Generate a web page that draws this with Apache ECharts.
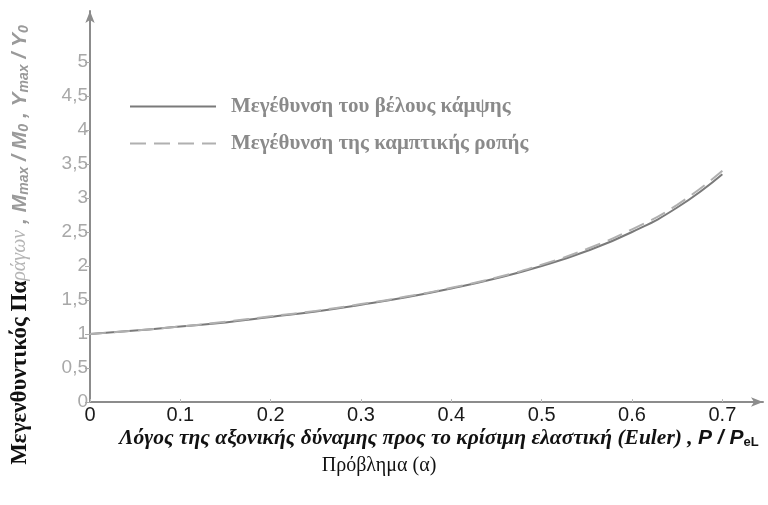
<!DOCTYPE html>
<html>
<head>
<meta charset="utf-8">
<script src="https://cdn.jsdelivr.net/npm/echarts@6/dist/echarts.min.js"></script>
<style>html,body{margin:0;padding:0;background:#fff;}#c{width:768px;height:505px;}</style>
</head>
<body>
<div id="c"></div>
<script>
// Load ratio P/PeL
const alpha = [0, 0.05, 0.1, 0.15, 0.2, 0.25, 0.3, 0.35, 0.4, 0.45, 0.5, 0.55, 0.6, 0.65, 0.7];
// Deflection amplification Ymax/Y0 (solid)
const deflection = [1.0, 1.05, 1.11, 1.17, 1.25, 1.33, 1.43, 1.54, 1.67, 1.82, 2.0, 2.22, 2.5, 2.86, 3.35];
// Moment amplification Mmax/M0 (dashed)
const moment = [1.0, 1.05, 1.11, 1.18, 1.26, 1.34, 1.44, 1.55, 1.68, 1.83, 2.02, 2.25, 2.54, 2.9, 3.4];
const xTicks = [0, 0.1, 0.2, 0.3, 0.4, 0.5, 0.6, 0.7];
const yTicks = [0, 0.5, 1, 1.5, 2, 2.5, 3, 3.5, 4, 4.5, 5];
const seriesNames = ['Μεγέθυνση του βέλους κάμψης', 'Μεγέθυνση της καμπτικής ροπής'];

const chart = echarts.init(document.getElementById('c'));
const serif = '"Liberation Serif", "DejaVu Serif", serif';
const sans = '"Liberation Sans", Arial, sans-serif';

chart.setOption({
  animation: false,
  backgroundColor: '#fff',
  grid: { left: 90, right: 5, top: 11, bottom: 103, containLabel: false },
  legend: {
    orient: 'vertical',
    left: 124,
    top: 91,
    itemWidth: 86,
    itemHeight: 14,
    itemGap: 16,
    itemStyle: { opacity: 0 },
    textStyle: { fontFamily: serif, fontWeight: 'bold', fontSize: 21, color: '#8a8a8a', padding: [0, 0, 0, 10] },
    data: seriesNames
  },
  xAxis: {
    type: 'value', min: 0, max: 0.745,
    axisLine: { lineStyle: { color: '#8c8c8c', width: 2 }, symbol: ['none', 'arrow'], symbolSize: [7, 12] },
    axisTick: { show: true, inside: true, length: 3, customValues: xTicks, lineStyle: { color: '#bbb' } },
    axisLabel: { customValues: xTicks, color: '#1a1a1a', fontFamily: sans, fontSize: 20, margin: 3,
      formatter: v => String(+v.toFixed(1)) },
    splitLine: { show: false }
  },
  yAxis: {
    type: 'value', min: 0, max: 5.75,
    axisLine: { lineStyle: { color: '#8c8c8c', width: 2 }, symbol: ['none', 'arrow'], symbolSize: [7, 12] },
    axisTick: { show: true, length: 5, customValues: yTicks, lineStyle: { color: '#aaa' } },
    axisLabel: { customValues: yTicks, color: '#a8a8a8', fontFamily: sans, fontSize: 19, margin: 2,
      formatter: v => String(+v.toFixed(1)).replace('.', ',') },
    splitLine: { show: false }
  },
  series: [
    { name: seriesNames[0], type: 'line', symbol: 'none', smooth: true,
      lineStyle: { color: '#7a7a7a', width: 2, type: 'solid' }, itemStyle: { color: '#7a7a7a' },
      data: alpha.map((a, i) => [a, deflection[i]]) },
    { name: seriesNames[1], type: 'line', symbol: 'none', smooth: true,
      lineStyle: { color: '#b0b0b0', width: 2, type: [16, 8] }, itemStyle: { color: '#b0b0b0' },
      data: alpha.map((a, i) => [a, moment[i]]) }
  ],
  graphic: [
    { type: 'text', rotation: Math.PI / 2, x: 20, y: 245,
      style: {
        x: 0, y: 0, align: 'center', verticalAlign: 'middle',
        text: '{a|Μεγενθυντικός Πα}{b|ράγων}{c| , M}{s|max}{c| / M}{s|0}{c| , Y}{s|max}{c| / Y}{s|0}',
        rich: {
          a: { fontFamily: serif, fontWeight: 'bold', fontSize: 23, fill: '#111' },
          b: { fontFamily: serif, fontStyle: 'italic', fontSize: 20, fill: '#b5b5b5' },
          c: { fontFamily: sans, fontWeight: 'bold', fontStyle: 'italic', fontSize: 21, fill: '#9a9a9a' },
          s: { fontFamily: sans, fontWeight: 'bold', fontStyle: 'italic', fontSize: 14, fill: '#9a9a9a', padding: [8, 0, 0, 0] }
        }
      }
    },
    { type: 'text', x: 439, y: 438,
      style: {
        x: 0, y: 0, align: 'center', verticalAlign: 'middle',
        text: '{t|Λόγος της αξονικής δύναμης προς το κρίσιμη ελαστική (Euler) , }{p|P / P}{q|eL}',
        rich: {
          t: { fontFamily: serif, fontWeight: 'bold', fontStyle: 'italic', fontSize: 21.5, fill: '#111' },
          p: { fontFamily: sans, fontWeight: 'bold', fontStyle: 'italic', fontSize: 21, fill: '#111' },
          q: { fontFamily: sans, fontWeight: 'bold', fontSize: 13, fill: '#111', padding: [9, 0, 0, 0] }
        }
      }
    },
    { type: 'text', x: 379, y: 466,
      style: { x: 0, y: 0, align: 'center', verticalAlign: 'middle', text: 'Πρόβλημα (α)',
        fontFamily: serif, fontSize: 20, fill: '#111' } }
  ]
});
</script>
</body>
</html>
